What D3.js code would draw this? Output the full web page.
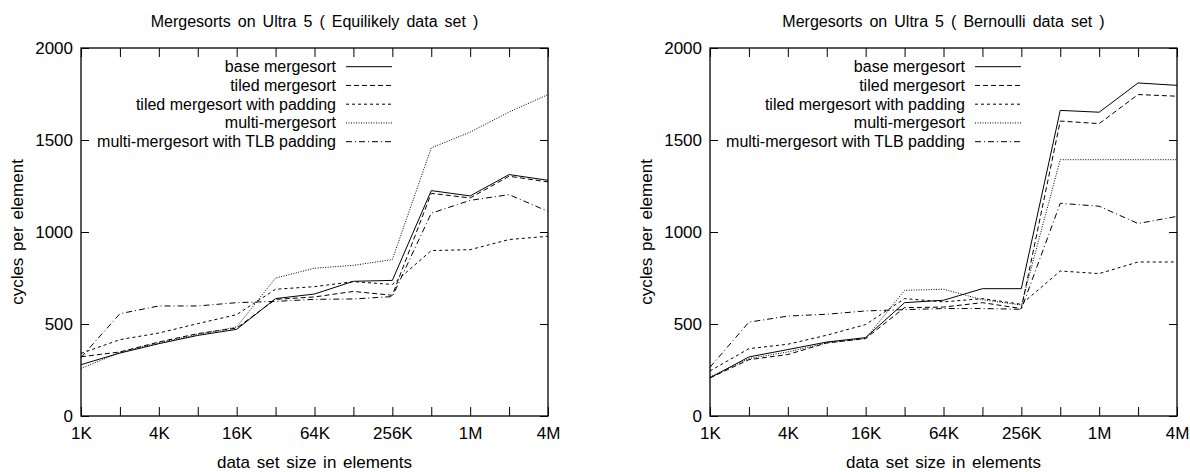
<!DOCTYPE html>
<html>
<head>
<meta charset="utf-8">
<script src="https://cdn.jsdelivr.net/npm/d3@7"></script>
<style>
body { margin: 0; background: #fff; }
text { font-family: "Liberation Sans", Arial, sans-serif; fill: #000; }
</style>
</head>
<body>
<script>
// data set sizes (elements), one point per doubling
let sizes = [1024, 2048, 4096, 8192, 16384, 32768, 65536, 131072, 262144, 524288, 1048576, 2097152, 4194304];
let tickLabels = ["1K", "", "4K", "", "16K", "", "64K", "", "256K", "", "1M", "", "4M"];
let yTicks = [0, 500, 1000, 1500, 2000];

let seriesNames = ["base mergesort", "tiled mergesort", "tiled mergesort with padding", "multi-mergesort", "multi-mergesort with TLB padding"];

// Equilikely data set (cycles per element)
let eqBase     = [279, 342, 393, 438, 471, 638, 663, 732, 737, 1225, 1196, 1312, 1281];
let eqTiled    = [322, 348, 402, 448, 478, 634, 647, 677, 656, 1210, 1185, 1303, 1272];
let eqTiledPad = [340, 415, 451, 502, 551, 689, 703, 730, 715, 899, 904, 959, 977];
let eqMulti    = [258, 346, 398, 443, 484, 750, 803, 819, 850, 1457, 1543, 1652, 1747];
let eqMultiTLB = [318, 556, 598, 598, 616, 623, 634, 636, 649, 1102, 1172, 1203, 1112];

// Bernoulli data set (cycles per element)
let beBase     = [207, 321, 361, 402, 426, 616, 629, 692, 692, 1661, 1651, 1810, 1797];
let beTiled    = [207, 306, 334, 397, 421, 589, 592, 616, 584, 1603, 1589, 1747, 1738];
let beTiledPad = [245, 366, 390, 439, 497, 638, 620, 638, 607, 788, 774, 837, 837];
let beMulti    = [213, 312, 348, 397, 421, 683, 689, 632, 603, 1393, 1393, 1393, 1393];
let beMultiTLB = [265, 510, 543, 553, 571, 578, 584, 584, 580, 1156, 1140, 1046, 1085];

let dashes = [null, "5,3", "3,3", "1,1.5", "6,3,1,3"];

let svg = d3.select("body").append("svg")
	.attr("width", 1190)
	.attr("height", 472);

let innerWidth = 467;
let innerHeight = 368;
let marginTop = 48;

function drawPanel(left, title, data) {
	let g = svg.append("g")
		.attr("transform", `translate(${left}, ${marginTop})`);

	let scaleX = d3.scaleLog().base(2)
		.domain([sizes[0], sizes[sizes.length - 1]])
		.range([0, innerWidth]);

	let scaleY = d3.scaleLinear()
		.domain([0, 2000])
		.range([innerHeight, 0]);

	//bottom axis with labels, ticks point inward
	g.append("g")
		.attr("transform", `translate(0, ${innerHeight})`)
		.call(d3.axisBottom(scaleX).tickValues(sizes).tickSize(-9).tickPadding(11)
			.tickFormat((d, i) => tickLabels[i]));
	g.append("g")
		.call(d3.axisTop(scaleX).tickValues(sizes).tickSize(-9).tickFormat(""));

	g.append("g")
		.call(d3.axisLeft(scaleY).tickValues(yTicks).tickSize(-8).tickPadding(8)
			.tickFormat(d3.format("d")));
	g.append("g")
		.attr("transform", `translate(${innerWidth}, 0)`)
		.call(d3.axisRight(scaleY).tickValues(yTicks).tickSize(-8).tickFormat(""));

	g.selectAll(".domain").remove();
	g.selectAll(".tick line").attr("stroke", "#000");
	g.selectAll(".tick text")
		.filter(function() { return !this.textContent; })
		.remove(); //drop the blank labels
	g.selectAll(".tick text")
		.attr("font-size", 17)
		.attr("font-family", "Liberation Sans, Arial, sans-serif");

	g.append("rect") //plot border
		.attr("width", innerWidth)
		.attr("height", innerHeight)
		.attr("fill", "none")
		.attr("stroke", "#000")
		.attr("stroke-width", 1.3);

	//title and axis labels
	g.append("text")
		.attr("x", innerWidth / 2)
		.attr("y", -21)
		.attr("text-anchor", "middle")
		.attr("font-size", 16)
		.attr("word-spacing", 2.6)
		.text(title);

	g.append("text")
		.attr("transform", `translate(-64, ${innerHeight / 2}) rotate(-90)`)
		.attr("text-anchor", "middle")
		.attr("dominant-baseline", "central")
		.attr("font-size", 17)
		.attr("word-spacing", 2)
		.text("cycles per element");

	g.append("text")
		.attr("x", innerWidth / 2)
		.attr("y", innerHeight + 52)
		.attr("text-anchor", "middle")
		.attr("font-size", 17)
		.attr("word-spacing", 2)
		.text("data set size in elements");

	let line = d3.line()
		.x((d, i) => scaleX(sizes[i]))
		.y(d => scaleY(d));

	data.forEach((vals, k) => {
		g.append("path")
			.datum(vals)
			.attr("fill", "none")
			.attr("stroke", "#000")
			.attr("stroke-width", 1)
			.attr("stroke-dasharray", dashes[k])
			.attr("d", line);

		//legend row
		let ly = 18.7 + k * 18.75;
		g.append("text")
			.attr("x", 255)
			.attr("y", ly)
			.attr("text-anchor", "end")
			.attr("dominant-baseline", "central")
			.attr("font-size", 16)
			.text(seriesNames[k]);
		g.append("line")
			.attr("x1", 265)
			.attr("x2", 311)
			.attr("y1", ly)
			.attr("y2", ly)
			.attr("stroke", "#000")
			.attr("stroke-width", 1)
			.attr("stroke-dasharray", dashes[k]);
	});
}

drawPanel(81, "Mergesorts on Ultra 5 ( Equilikely data set )",
	[eqBase, eqTiled, eqTiledPad, eqMulti, eqMultiTLB]);
drawPanel(710, "Mergesorts on Ultra 5 ( Bernoulli data set )",
	[beBase, beTiled, beTiledPad, beMulti, beMultiTLB]);
</script>
</body>
</html>
